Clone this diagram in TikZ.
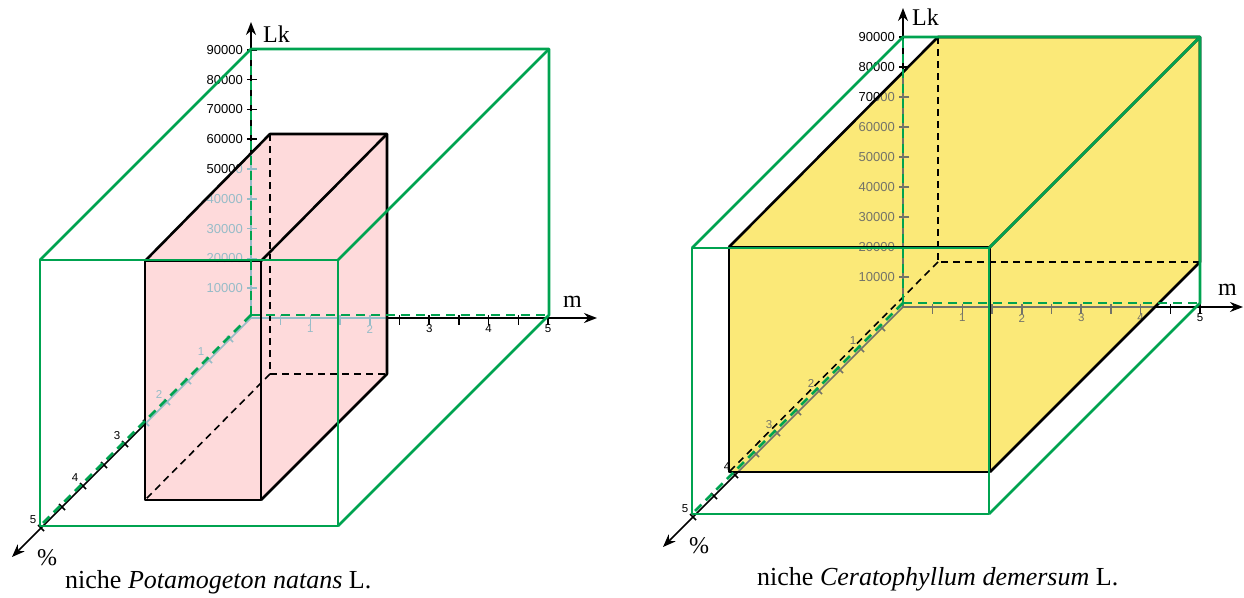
\documentclass[tikz,border=0pt]{standalone}
\usepackage{fontspec}
\setmainfont{Liberation Serif}
\newfontfamily\tickfont{Liberation Sans}
\usetikzlibrary{arrows.meta}
\definecolor{gbox}{RGB}{0,163,80}
\definecolor{pinkfill}{RGB}{254,218,219}
\definecolor{yelfill}{RGB}{251,233,120}
\definecolor{fadeL}{RGB}{150,188,200}
\definecolor{fadeR}{RGB}{115,115,105}
\tikzset{
  axisline/.style={line width=1.5pt,-{Stealth[length=13pt,width=10pt]}},
  tickline/.style={line width=1.5pt},
  lklab/.style={font=\tickfont\fontsize{13}{13}\selectfont,inner sep=0pt},
  ticklab/.style={font=\tickfont\fontsize{11.5}{11.5}\selectfont,inner sep=0pt},
  biglab/.style={font=\fontsize{24}{24}\selectfont,inner sep=0pt,anchor=base west},
  caplab/.style={font=\fontsize{26}{26}\selectfont,inner sep=0pt,anchor=base west},
  gedge/.style={draw=gbox,line width=2.7pt,line join=round},
  ghidden/.style={draw=gbox,line width=2.7pt,dash pattern=on 9pt off 6pt},
  bedge/.style={draw=black,line width=2.6pt,line join=round},
  bhidden/.style={draw=black,line width=1.6pt,dash pattern=on 7pt off 5pt},
}
% #1 prefix, #2 colour, #3 px per 10000, #4 Lk tip, #5 m tip, #6 % tip
\newcommand\drawaxes[6]{%
  \draw[axisline,draw=#2,fill=#2] (0,0) -- (0,-#4);
  \draw[axisline,draw=#2,fill=#2] (0,0) -- (#5,0);
  \draw[axisline,draw=#2,fill=#2] (0,0) -- (-#6,#6);
  \foreach \i in {1,...,9}{
    \draw[tickline,draw=#2] (-4,-\i*#3) -- (6,-\i*#3);
    \node[lklab,text=#2,anchor=east] (#1lk\i) at (-8,-\i*#3) {\i0000};
  }
  \foreach \j in {1,...,10}{
    \draw[tickline,draw=#2] (\j*29.7,-3) -- (\j*29.7,7);
    \draw[tickline,draw=#2] (-\j*21-3,\j*21-3) -- (-\j*21+3,\j*21+3);
  }
  \foreach \k in {1,...,5}{
    \node[ticklab,text=#2] (#1m\k) at (\k*59.4,11) {\k};
    \node[ticklab,text=#2] (#1p\k) at (-\k*42-8,\k*42-8) {\k};
  }
}
\begin{document}
\begin{tikzpicture}[x=1pt,y=-1pt]
\useasboundingbox (0,0) rectangle (1244,597);

% ================= LEFT =================
\coordinate (pFTL) at (145,261); \coordinate (pFTR) at (261,261);
\coordinate (pFBL) at (145,500); \coordinate (pFBR) at (261,500);
\coordinate (pBTL) at (270,134); \coordinate (pBTR) at (387,134);
\coordinate (pBBL) at (270,374); \coordinate (pBBR) at (387,374);

\begin{scope}[shift={(251,318)}]
  \drawaxes{a}{black}{29.8}{296}{346}{239}
\end{scope}

\fill[pinkfill] (pFBL) -- (pFTL) -- (pBTL) -- (pBTR) -- (pBBR) -- (pFBR) -- cycle;
\begin{scope}
  \clip (pFBL) -- (pFTL) -- (pBTL) -- (pBTR) -- (pBBR) -- (pFBR) -- cycle;
  \begin{scope}[shift={(251,318)}]
    \drawaxes{af}{fadeL}{29.8}{296}{346}{239}
  \end{scope}
\end{scope}

\draw[bhidden] (pBTL) -- (pBBL) -- (pBBR);
\draw[bhidden] (pBBL) -- (pFBL);
\draw[bedge] (pFTL) rectangle (pFBR);
\draw[bedge] (pFTL) -- (pBTL) -- (pBTR) -- (pBBR) -- (pFBR);
\draw[bedge] (pFTR) -- (pBTR);

\coordinate (gFTL) at (40,260);  \coordinate (gFTR) at (338,260);
\coordinate (gFBL) at (40,526);  \coordinate (gFBR) at (338,526);
\coordinate (gBTL) at (251,49);  \coordinate (gBTR) at (549,49);
\coordinate (gBBL) at (251,315); \coordinate (gBBR) at (549,315);
\draw[ghidden] (gBBL) -- (gBTL);
\draw[ghidden] (gBBL) -- (gBBR);
\draw[ghidden] (gBBL) -- (gFBL);
\draw[gedge] (gFTL) rectangle (gFBR);
\draw[gedge] (gFTL) -- (gBTL) -- (gBTR) -- (gBBR) -- (gFBR);
\draw[gedge] (gFTR) -- (gBTR);

\node[biglab] (lkL) at (263,42) {Lk};
\node[biglab] (mL) at (563,307) {m};
\node[biglab] (pcL) at (37,565) {\%};
\node[caplab] (capL) at (65,588) {niche \textit{Potamogeton natans} L.};

% ================= RIGHT =================
\coordinate (yFTL) at (729,247); \coordinate (yFTR) at (990,247);
\coordinate (yFBL) at (729,472); \coordinate (yFBR) at (990,472);
\coordinate (yBTL) at (938,37);  \coordinate (yBTR) at (1200,37);
\coordinate (yBBL) at (938,262); \coordinate (yBBR) at (1200,262);

\begin{scope}[shift={(903,307)}]
  \drawaxes{b}{black}{30}{299}{340}{240}
\end{scope}

\fill[yelfill] (yFBL) -- (yFTL) -- (yBTL) -- (yBTR) -- (yBBR) -- (yFBR) -- cycle;
\begin{scope}
  \clip (yFBL) -- (yFTL) -- (yBTL) -- (yBTR) -- (yBBR) -- (yFBR) -- cycle;
  \begin{scope}[shift={(903,307)}]
    \drawaxes{bf}{fadeR}{30}{299}{340}{240}
  \end{scope}
\end{scope}

\draw[bhidden] (yBTL) -- (yBBL) -- (yBBR);
\draw[bhidden] (yBBL) -- (yFBL);
\draw[bedge] (yFTL) rectangle (yFBR);
\draw[bedge] (yFTL) -- (yBTL) -- (yBTR) -- (yBBR) -- (yFBR);
\draw[bedge] (yFTR) -- (yBTR);

\coordinate (hFTL) at (692,248);  \coordinate (hFTR) at (989,248);
\coordinate (hFBL) at (692,514);  \coordinate (hFBR) at (989,514);
\coordinate (hBTL) at (903,37);   \coordinate (hBTR) at (1200,37);
\coordinate (hBBL) at (903,303);  \coordinate (hBBR) at (1200,303);
\draw[ghidden] (hBBL) -- (hBTL);
\draw[ghidden] (hBBL) -- (hBBR);
\draw[ghidden] (hBBL) -- (hFBL);
\draw[gedge] (hFTL) rectangle (hFBR);
\draw[gedge] (hFTL) -- (hBTL) -- (hBTR) -- (hBBR) -- (hFBR);
\draw[gedge] (hFTR) -- (hBTR);

\node[biglab] (lkR) at (912,25) {Lk};
\node[biglab] (mR) at (1218,295) {m};
\node[biglab] (pcR) at (689,553) {\%};
\node[caplab] (capR) at (757,585) {niche \textit{Ceratophyllum demersum} L.};
\end{tikzpicture}
\end{document}
